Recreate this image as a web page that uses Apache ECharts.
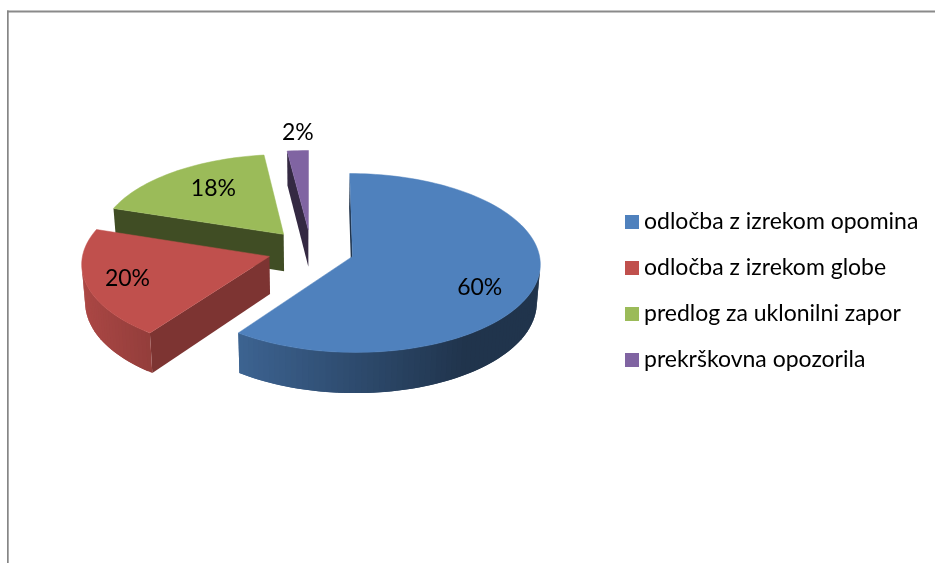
<!DOCTYPE html>
<html>
<head>
<meta charset="utf-8">
<script src="https://cdn.jsdelivr.net/npm/echarts@6/dist/echarts.min.js"></script>
<style>
html, body { margin: 0; padding: 0; background: #fff; overflow: hidden; }
#main { width: 935px; height: 563px; }
</style>
</head>
<body>
<div id="main"></div>
<script>
var categories = ['odločba z izrekom opomina', 'odločba z izrekom globe', 'predlog za uklonilni zapor', 'prekrškovna opozorila'];
var values = [60, 20, 18, 2];
var colors = ['#4f81bd', '#c0504d', '#9bbb59', '#8064a2'];
var radialShade = [0.4, 0.65, 0.41, 0.41];
var labelRadius = [0.70, 0.78, 0.63, 1.0];
var labelShift = [12, 0, -6, -18];
var paintOrder = [4, 3, 2, 1];

// pie geometry, fitted to the picture
var cx = 311, cy = 250, rx = 186, ry = 88, depth = 37.5;
var persp = 0.0734, explode = 0.2337, bottomScale = 0.985;
var fontName = 'Lato, "Open Sans", sans-serif';

var total = values.reduce(function (a, b) { return a + b; }, 0);

function project(u, v, z) {
    var w = 1 - persp * v;
    var s = z ? bottomScale : 1;
    return [cx + rx * u * s / w, cy + (ry * v + depth * z) / w];
}

function shade(hex, f) {
    var n = parseInt(hex.slice(1), 16);
    var r = Math.round((n >> 16) * f);
    var g = Math.round(((n >> 8) & 255) * f);
    var b = Math.round((n & 255) * f);
    return 'rgb(' + r + ',' + g + ',' + b + ')';
}

function quadArea(q) {
    var sum = 0;
    for (var i = 0; i < q.length; i++) {
        var a = q[i], b = q[(i + 1) % q.length];
        sum += a[0] * b[1] - b[0] * a[1];
    }
    return sum;
}

function wall(a, b, color) {
    var q = [project(a[0], a[1], 0), project(b[0], b[1], 0), project(b[0], b[1], 1), project(a[0], a[1], 1)];
    if (quadArea(q) >= 0) return null;
    return {
        type: 'polygon',
        shape: { points: q },
        style: { fill: color }
    };
}

function sliceRender(i) {
    return function (params, api) {
        var before = 0;
        for (var k = 0; k < i; k++) before += values[k];
        var start = before / total * Math.PI * 2;
        var sweep = api.value(0) / total * Math.PI * 2;
        var mid = start + sweep / 2;
        var ax = Math.sin(mid) * explode, ay = -Math.cos(mid) * explode;

        var steps = Math.max(4, Math.round(sweep / 0.03));
        var rim = [];
        for (var s = 0; s <= steps; s++) {
            var t = start + sweep * s / steps;
            rim.push([ax + Math.sin(t), ay - Math.cos(t), t]);
        }

        var children = [];
        var push = function (el) { if (el) children.push(el); };
        var apex = [ax, ay];
        push(wall(apex, rim[0], shade(colors[i], radialShade[i])));
        push(wall(rim[steps], apex, shade(colors[i], radialShade[i])));
        // rim quads overlap the next one so no seams show through
        for (var j = 0; j < steps; j++) {
            var tm = (rim[j][2] + rim[j + 1][2]) / 2;
            var f = Math.max(0.4, 0.58 - 0.32 * Math.sin(tm));
            push(wall(rim[j], rim[Math.min(j + 2, steps)], shade(colors[i], f)));
        }

        var top = [project(ax, ay, 0)].concat(rim.map(function (p) { return project(p[0], p[1], 0); }));
        children.push({
            type: 'polygon',
            shape: { points: top },
            style: { fill: colors[i], stroke: colors[i], lineWidth: 0.5 }
        });

        var lr = labelRadius[i];
        var lp = project(ax + Math.sin(mid) * lr, ay - Math.cos(mid) * lr, 0);
        children.push({
            type: 'text',
            style: {
                x: lp[0],
                y: lp[1] + labelShift[i],
                text: Math.round(api.value(0) / total * 100) + '%',
                fill: '#000',
                fontFamily: fontName,
                fontSize: 23,
                align: 'center',
                verticalAlign: 'middle'
            }
        });
        return { type: 'group', children: children };
    };
}

var chart = echarts.init(document.getElementById('main'));
chart.setOption({
    animation: false,
    backgroundColor: '#fff',
    legend: {
        orient: 'vertical',
        left: 625,
        top: 210,
        padding: 0,
        itemWidth: 14,
        itemHeight: 14,
        itemGap: 22,
        icon: 'rect',
        selectedMode: false,
        data: categories,
        textStyle: { fontFamily: fontName, fontSize: 23, color: '#000', height: 24, lineHeight: 24 }
    },
    graphic: [
        { type: 'rect', shape: { x: 7, y: 10.5, width: 928, height: 2 }, style: { fill: '#8a8a8a' } },
        { type: 'rect', shape: { x: 7, y: 10.5, width: 1.7, height: 553 }, style: { fill: '#868686' } }
    ],
    series: categories.map(function (name, i) {
        return {
            type: 'custom',
            name: name,
            coordinateSystem: 'none',
            silent: true,
            z: 2 + paintOrder[i],
            itemStyle: { color: colors[i] },
            data: [[values[i]]],
            renderItem: sliceRender(i)
        };
    })
});
</script>
</body>
</html>
